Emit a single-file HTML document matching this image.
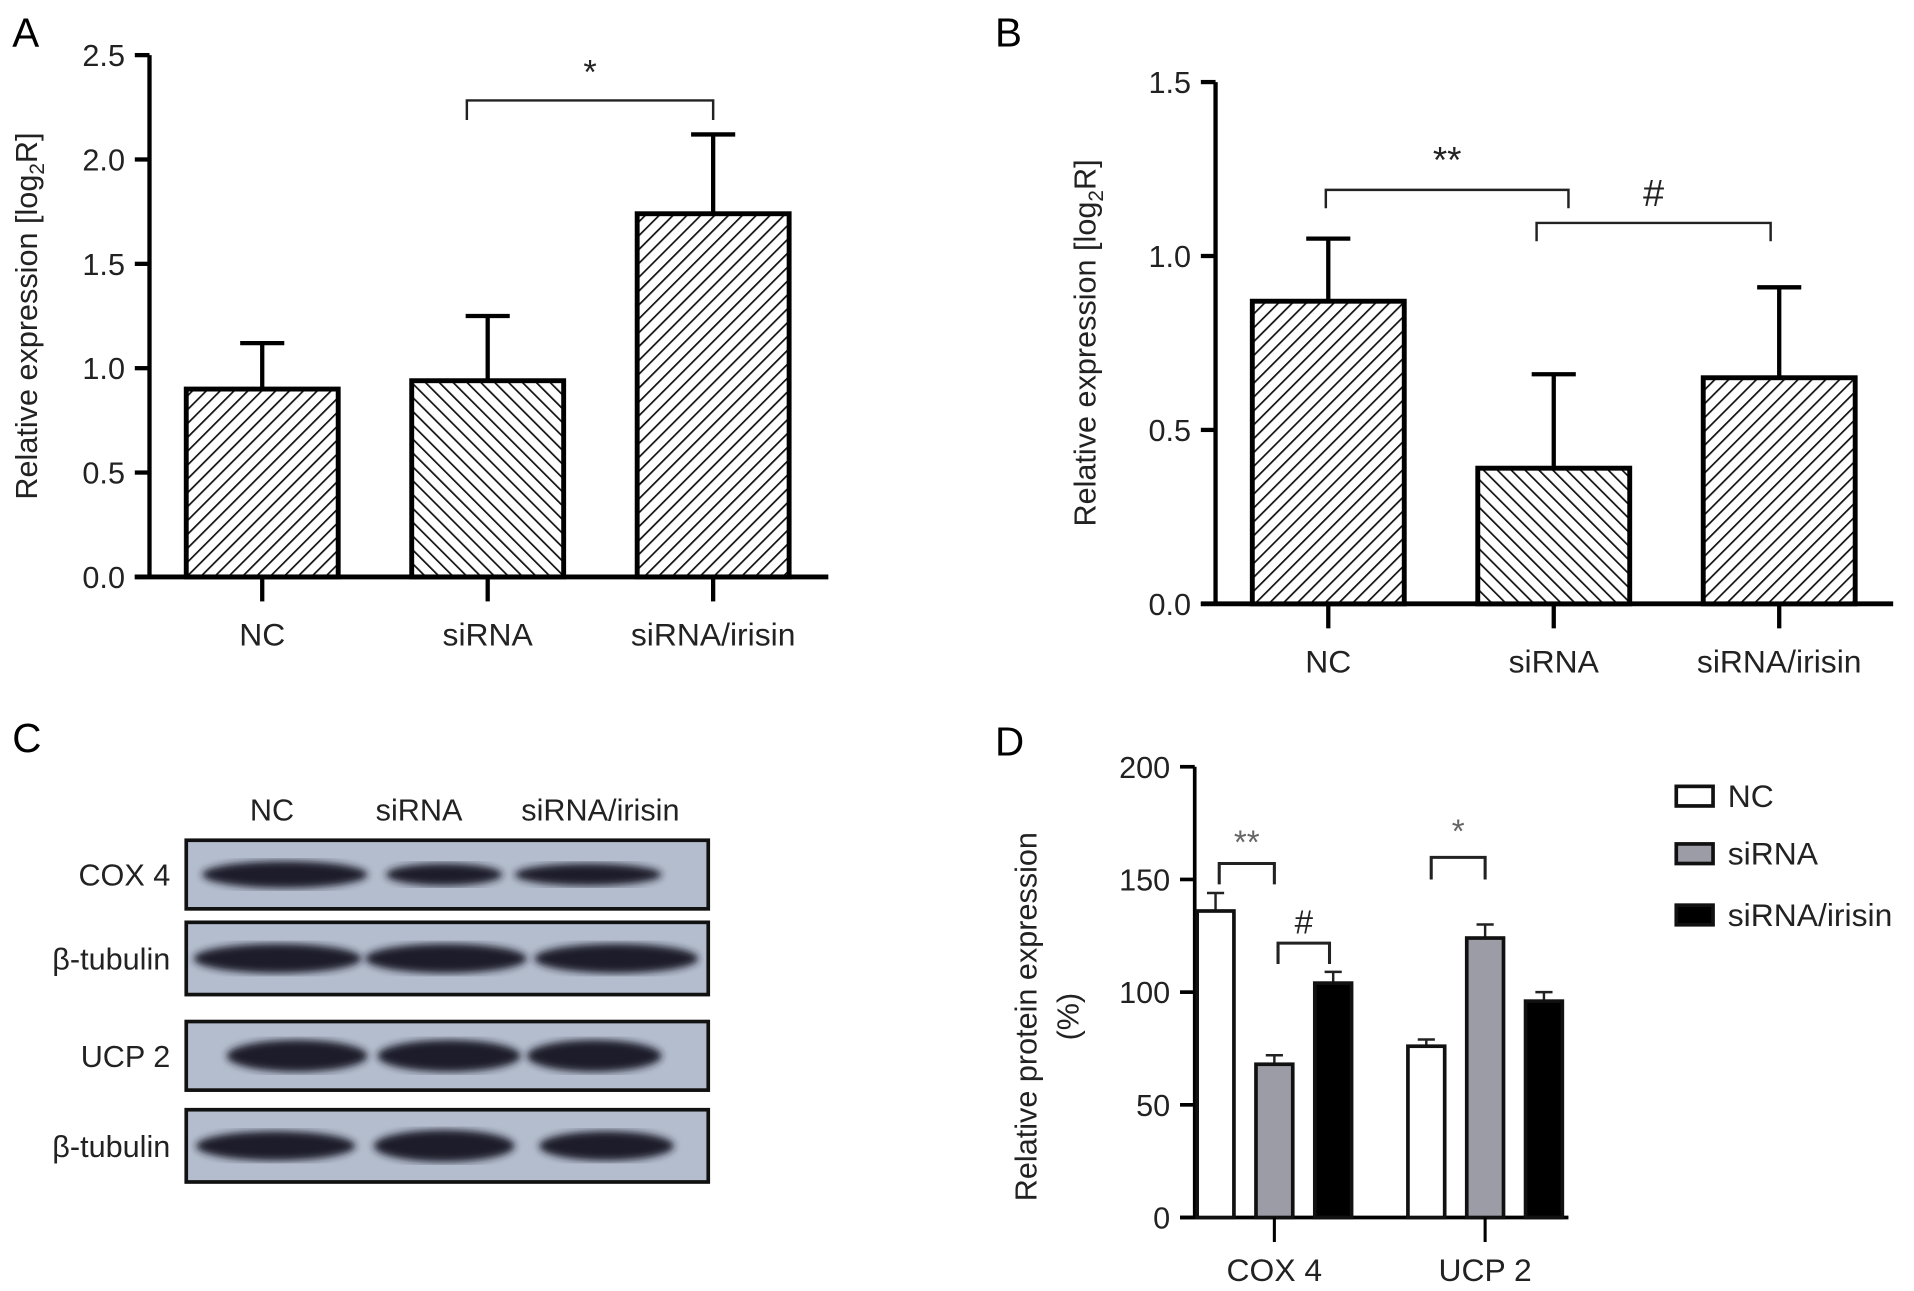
<!DOCTYPE html>
<html><head><meta charset="utf-8"><style>
html,body{margin:0;padding:0;background:#fff;}
svg{display:block;font-family:"Liberation Sans",sans-serif;}
</style></head><body>
<svg id="fig" width="1914" height="1291" viewBox="0 0 1562 1054" preserveAspectRatio="none">
<defs>
<pattern id="hatchF" width="8" height="8" patternUnits="userSpaceOnUse" patternTransform="rotate(45)"><rect width="8" height="8" fill="#fff"/><line x1="0" y1="0" x2="0" y2="8" stroke="#111" stroke-width="2.8"/></pattern>
<pattern id="hatchB" width="8" height="8" patternUnits="userSpaceOnUse" patternTransform="rotate(-45)"><rect width="8" height="8" fill="#fff"/><line x1="0" y1="0" x2="0" y2="8" stroke="#111" stroke-width="2.8"/></pattern>
<filter id="blur"><feGaussianBlur stdDeviation="3"/></filter>
</defs>
<text x="10" y="38" font-size="33">A</text>
<text x="812" y="38" font-size="33">B</text>
<text x="10" y="614" font-size="33">C</text>
<text x="812" y="617" font-size="33">D</text>
<g id="pa"></g><g id="pb"></g><g id="pc"></g><g id="pd"></g>
</svg>
<script>
const NS="http://www.w3.org/2000/svg";
function mk(parent,tag,attrs,text){const e=document.createElementNS(NS,tag);for(const k in attrs)e.setAttribute(k,attrs[k]);if(text!==undefined)e.textContent=text;parent.appendChild(e);return e;}

// Panel A data
const aCategories=["NC","siRNA","siRNA/irisin"];
const aValues=[0.90,0.94,1.74];
const aErrors=[1.12,1.25,2.12];
const aTicks=["0.0","0.5","1.0","1.5","2.0","2.5"];
// Panel B data
const bCategories=["NC","siRNA","siRNA/irisin"];
const bValues=[0.87,0.39,0.65];
const bErrors=[1.05,0.66,0.91];
const bTicks=["0.0","0.5","1.0","1.5"];
// Panel D data
const dGroups=["COX 4","UCP 2"];
const dSeries=["NC","siRNA","siRNA/irisin"];
const dValues=[[136,76],[68,124],[104,96]];
const dErrors=[[144,79],[72,130],[109,100]];
const dTicks=["0","50","100","150","200"];

function hatchChart(g,cfg){
  const y=v=>cfg.y0-(v-0)*(cfg.y0-cfg.yTop)/cfg.max;
  mk(g,"line",{x1:cfg.ax,y1:cfg.yTop,x2:cfg.ax,y2:cfg.y0,stroke:"#000","stroke-width":3.5});
  mk(g,"line",{x1:cfg.ax-12,y1:cfg.y0,x2:cfg.xEnd,y2:cfg.y0,stroke:"#000","stroke-width":4});
  cfg.ticks.forEach(t=>{const yy=y(parseFloat(t));
    const tk=mk(g,"line",{x1:cfg.ax-12,y1:yy,x2:cfg.ax,y2:yy,stroke:"#000","stroke-width":3.5});
    
    const tl=mk(g,"text",{x:cfg.ax-20,y:yy+9,"font-size":25,"text-anchor":"end",fill:"#222"},t);
    });
  cfg.cats.forEach((c,i)=>{const cx=cfg.c0+i*cfg.step;const top=y(cfg.vals[i]);
    const eb=y(cfg.errs[i]);
    const el=mk(g,"line",{x1:cx,y1:eb,x2:cx,y2:top,stroke:"#000","stroke-width":3.5});
    
    mk(g,"line",{x1:cx-18,y1:eb,x2:cx+18,y2:eb,stroke:"#000","stroke-width":3.5});
    const r=mk(g,"rect",{x:cx-62,y:top,width:124,height:cfg.y0-top,fill:i==1?"url(#hatchB)":"url(#hatchF)",stroke:"#000","stroke-width":4});
    
    mk(g,"line",{x1:cx,y1:cfg.y0,x2:cx,y2:cfg.y0+20,stroke:"#000","stroke-width":3.5});
    const l=mk(g,"text",{x:cx,y:cfg.y0+56,"font-size":26,"text-anchor":"middle",fill:"#222"},c);
    });
  const tt=mk(g,"text",{x:0,y:0,"font-size":25,"text-anchor":"middle",fill:"#222",transform:`translate(${cfg.titleX},${(cfg.yTop+cfg.y0)/2}) rotate(-90)`});
  
  tt.innerHTML='Relative expression [log<tspan font-size="17" dy="6">2</tspan><tspan dy="-6">R]</tspan>';
  cfg.brackets.forEach(b=>{const br=mk(g,"path",{d:`M${b[0]},${b[3]} V${b[2]} H${b[1]} V${b[3]}`,fill:"none",stroke:"#222","stroke-width":2});
    
    const s=mk(g,"text",{x:(b[0]+b[1])/2,y:b[2]-b[5],"font-size":b[6],"text-anchor":"middle",fill:"#222"},b[4]);
    });
}
hatchChart(document.getElementById("pa"),{ax:122,yTop:45,y0:471,max:2.5,xEnd:676,c0:214,step:184,cats:aCategories,vals:aValues,errs:aErrors,ticks:aTicks,titleX:30,
  brackets:[[381,582,82,98,"*",14,28]]});
hatchChart(document.getElementById("pb"),{ax:992,yTop:67,y0:493,max:1.5,xEnd:1545,c0:1084,step:184,cats:bCategories,vals:bValues,errs:bErrors,ticks:bTicks,titleX:894,
  brackets:[[1082,1280,155,170,"**",14,30],[1254,1445,182,197,"#",14,31]]});

// Panel C blot
(function(){const g=document.getElementById("pc");
  [["NC",222],["siRNA",342],["siRNA/irisin",490]].forEach(h=>{const t=mk(g,"text",{x:h[1],y:670,"font-size":25,"text-anchor":"middle",fill:"#222"},h[0]);
    });
  const rows=[["COX 4",686,742,[[165,300,11],[315,410,9],[420,540,9]]],["β-tubulin",753,812,[[158,295,12],[298,430,12],[436,570,12]]],["UCP 2",834,890,[[185,300,13],[308,425,13],[430,540,13]]],["β-tubulin",906,965,[[160,290,12],[305,420,13],[440,550,12]]]];
  rows.forEach(r=>{const box=mk(g,"rect",{x:152,y:r[1],width:426,height:r[2]-r[1],fill:"#b4bdcd",stroke:"#111","stroke-width":3});
    
    const cy=(r[1]+r[2])/2;
    r[3].forEach(b=>{mk(g,"ellipse",{cx:(b[0]+b[1])/2,cy:cy,rx:(b[1]-b[0])/2,ry:b[2],fill:"#1c1f2a",filter:"url(#blur)"});});
    const l=mk(g,"text",{x:139,y:cy+9,"font-size":25,"text-anchor":"end",fill:"#222"},r[0]);
    });
})();

// Panel D
(function(){const g=document.getElementById("pd");const ax=975,y0=994,yTop=626,max=200;
  const y=v=>y0-v*(y0-yTop)/max;
  mk(g,"line",{x1:ax,y1:yTop,x2:ax,y2:y0,stroke:"#000","stroke-width":3});
  mk(g,"line",{x1:ax-12,y1:y0,x2:1280,y2:y0,stroke:"#000","stroke-width":3});
  dTicks.forEach(t=>{const yy=y(+t);mk(g,"line",{x1:ax-12,y1:yy,x2:ax,y2:yy,stroke:"#000","stroke-width":3});
    const tl=mk(g,"text",{x:ax-20,y:yy+9,"font-size":25,"text-anchor":"end",fill:"#222"},t);
    });
  const fills=["#fff","#9c9ca6","#000"];const gx=[992,1164];const bw=30,bs=48;
  dGroups.forEach((gr,gi)=>{dSeries.forEach((s,si)=>{const cx=gx[gi]+si*bs;const top=y(dValues[si][gi]);const eb=y(dErrors[si][gi]);
      mk(g,"line",{x1:cx,y1:eb,x2:cx,y2:top,stroke:"#222","stroke-width":2});
      mk(g,"line",{x1:cx-7,y1:eb,x2:cx+7,y2:eb,stroke:"#222","stroke-width":2});
      const r=mk(g,"rect",{x:cx-bw/2,y:top,width:bw,height:y0-top,fill:fills[si],stroke:"#111","stroke-width":3});
      });
    const cx=gx[gi]+bs;mk(g,"line",{x1:cx,y1:y0,x2:cx,y2:y0+20,stroke:"#000","stroke-width":2.5});
    const l=mk(g,"text",{x:cx,y:1046,"font-size":26,"text-anchor":"middle",fill:"#222"},gr);
    });
  [[995,1040,705,722,"**",8,"#666"],[1043,1085,770,787,"#",8,"#222"],[1168,1212,700,718,"*",12,"#666"]].forEach(b=>{
    const br=mk(g,"path",{d:`M${b[0]},${b[3]} V${b[2]} H${b[1]} V${b[3]}`,fill:"none",stroke:"#222","stroke-width":2.5});
    
    const s=mk(g,"text",{x:(b[0]+b[1])/2,y:b[2]-b[5],"font-size":27,"text-anchor":"middle",fill:b[6]},b[4]);
    });
  const tt=mk(g,"text",{x:0,y:0,"font-size":25,"text-anchor":"middle",fill:"#222",transform:`translate(846,830) rotate(-90)`},"Relative protein expression");
  
  const t2=mk(g,"text",{x:0,y:0,"font-size":25,"text-anchor":"middle",fill:"#222",transform:`translate(880,830) rotate(-90)`},"(%)");
  
  dSeries.forEach((s,si)=>{const ly=[650,697,747][si];
    const r=mk(g,"rect",{x:1368,y:ly-8,width:30,height:16,fill:fills[si],stroke:"#111","stroke-width":3});
    
    const t=mk(g,"text",{x:1410,y:ly+9,"font-size":26,fill:"#222"},s);
    });
})();
</script>
</body></html>
